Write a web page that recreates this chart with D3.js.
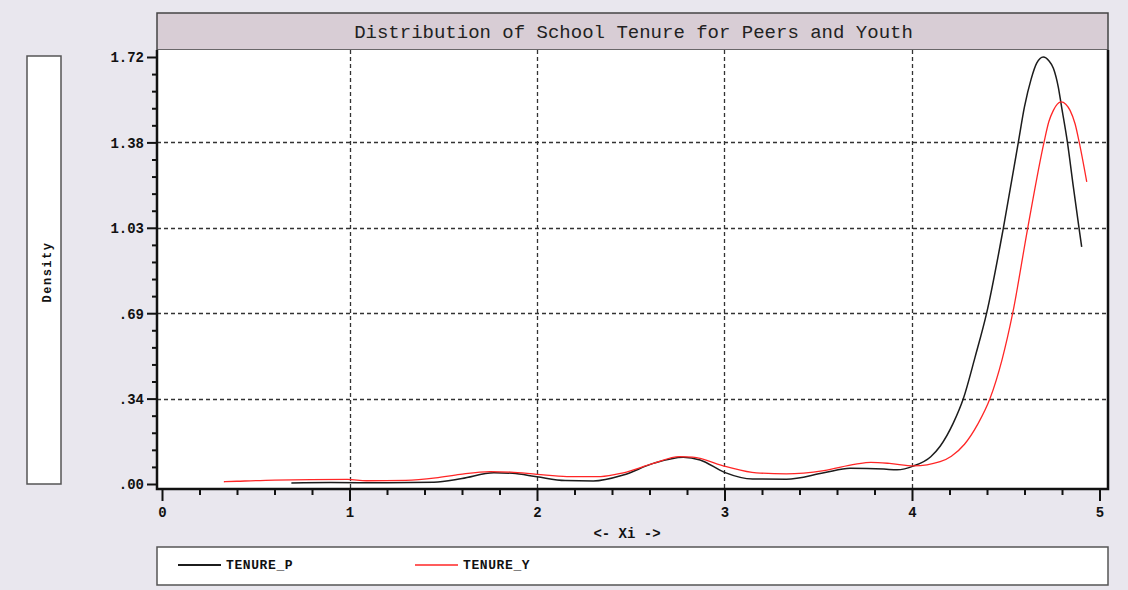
<!DOCTYPE html>
<html>
<head>
<meta charset="utf-8">
<script src="https://cdn.jsdelivr.net/npm/d3@7"></script>
<style>
  body { margin: 0; background: #e9e7ee; }
  svg { display: block; }
  text { font-family: "Liberation Mono", "DejaVu Sans Mono", monospace; }
</style>
</head>
<body>
<div id="chart"></div>
<script>
'use strict';

/* data */
var seriesNames = ['TENURE_P', 'TENURE_Y'];
var seriesColors = ['#1c1c1c', '#ff2626'];

var peersX = [0.69, 0.9, 1.2, 1.45, 1.6, 1.77, 1.87, 2.0, 2.15, 2.3, 2.46, 2.62, 2.78, 2.87, 3.0,
  3.15, 3.33, 3.53, 3.67, 3.85, 3.92, 4.01, 4.1, 4.15, 4.22, 4.274, 4.336, 4.398, 4.487,
  4.567, 4.6, 4.635, 4.665, 4.7, 4.73, 4.754, 4.78, 4.798, 4.829, 4.86, 4.891, 4.905];
var peersY = [0.004, 0.006, 0.005, 0.007, 0.022, 0.045, 0.043, 0.029, 0.014, 0.012, 0.036, 0.083, 0.108, 0.097, 0.047,
  0.02, 0.019, 0.045, 0.063, 0.06, 0.057, 0.073, 0.11, 0.152, 0.245, 0.344, 0.51, 0.688, 1.03,
  1.376, 1.52, 1.63, 1.695, 1.72, 1.705, 1.675, 1.6, 1.518, 1.376, 1.2, 1.03, 0.955];

var youthX = [0.33, 0.4, 0.6, 0.99, 1.09, 1.3, 1.46, 1.59, 1.75, 1.86, 2.0, 2.16, 2.34, 2.46, 2.62,
  2.76, 2.83, 3.01, 3.17, 3.33, 3.53, 3.7, 3.78, 3.88, 4.01, 4.15, 4.21, 4.28, 4.35, 4.416, 4.48,
  4.537, 4.617, 4.704, 4.73, 4.754, 4.775, 4.795, 4.82, 4.843, 4.87, 4.892, 4.932];
var youthY = [0.009, 0.011, 0.016, 0.019, 0.013, 0.015, 0.025, 0.039, 0.05, 0.048, 0.039, 0.03, 0.03, 0.045, 0.083,
  0.11, 0.108, 0.07, 0.045, 0.041, 0.054, 0.08, 0.087, 0.083, 0.073, 0.09, 0.112, 0.16, 0.24, 0.344, 0.5,
  0.688, 1.03, 1.376, 1.46, 1.505, 1.53, 1.539, 1.53, 1.505, 1.45, 1.376, 1.217];

var yTicks = [0, 0.344, 0.688, 1.032, 1.376, 1.72];
var yTickLabels = ['.00', '.34', '.69', '1.03', '1.38', '1.72'];
var xTicks = [0, 1, 2, 3, 4, 5];

var titleText = 'Distribution of School Tenure for Peers and Youth';

// page geometry
var width = 1128, height = 590;
var plot = {left: 157, right: 1108, top: 50, bottom: 489};

var svg = d3.select('#chart').append('svg')
  .attr('width', width)
  .attr('height', height);

svg.append('rect')
  .attr('width', width).attr('height', height)
  .style('fill', '#e9e7ee');

// scales
var x = d3.scaleLinear().domain([0, 5]).range([162, 1099.5]);
var y = d3.scaleLinear().domain([0, 1.72]).range([484, 57]);

/* title band */
svg.append('rect')
  .attr('x', plot.left).attr('y', 13)
  .attr('width', plot.right - plot.left).attr('height', plot.top - 13)
  .style('fill', '#d8cdd5')
  .style('stroke', '#444').style('stroke-width', 1.5);
svg.append('text')
  .attr('x', (plot.left + plot.right) / 2 + 1)
  .attr('y', 38)
  .attr('text-anchor', 'middle')
  .style('font-size', '19px')
  .style('fill', '#222')
  .text(titleText);

/* plot background */
svg.append('rect')
  .attr('x', plot.left).attr('y', plot.top)
  .attr('width', plot.right - plot.left).attr('height', plot.bottom - plot.top)
  .style('fill', '#fff');

/* grid lines */
svg.append('g').selectAll('line.vg')
  .data(xTicks.slice(1, 5))
  .enter().append('line')
  .attr('x1', function(d) { return Math.round(x(d)) + 0.5; })
  .attr('x2', function(d) { return Math.round(x(d)) + 0.5; })
  .attr('y1', plot.top).attr('y2', plot.bottom)
  .style('stroke', '#333').style('stroke-width', 1.3)
  .style('stroke-dasharray', '4,3');

svg.append('g').selectAll('line.hg')
  .data(yTicks.slice(1, 5))
  .enter().append('line')
  .attr('y1', function(d) { return Math.round(y(d)) + 0.5; })
  .attr('y2', function(d) { return Math.round(y(d)) + 0.5; })
  .attr('x1', plot.left).attr('x2', plot.right)
  .style('stroke', '#333').style('stroke-width', 1.3)
  .style('stroke-dasharray', '4,3');

/* curves */
var line = d3.line()
  .x(function(d) { return x(d[0]); })
  .y(function(d) { return y(d[1]); })
  .curve(d3.curveMonotoneX);

var series = [d3.zip(peersX, peersY), d3.zip(youthX, youthY)];
svg.append('g').selectAll('path')
  .data(series)
  .enter().append('path')
  .attr('d', line)
  .style('fill', 'none')
  .style('stroke', function(d, i) { return seriesColors[i]; })
  .style('stroke-width', function(d, i) { return i === 0 ? 1.5 : 1.3; });

/* frame: left, bottom, right */
svg.append('path')
  .attr('d', 'M' + plot.left + ',' + plot.top + 'V' + plot.bottom + 'H' + plot.right + 'V' + plot.top)
  .style('fill', 'none')
  .style('stroke', '#111').style('stroke-width', 2.5);

// y axis ticks
var yMinor = [];
for (var i = 0; i < yTicks.length - 1; i++) {
  for (var k = 1; k < 5; k++) yMinor.push(yTicks[i] + (yTicks[i + 1] - yTicks[i]) * k / 5);
}
var yAxis = d3.axisLeft(y).tickValues(yTicks)
  .tickFormat(function(d, i) { return yTickLabels[i]; })
  .tickSize(10).tickPadding(3);
var gy = svg.append('g')
  .attr('transform', 'translate(' + plot.left + ',0)')
  .call(yAxis);
gy.select('.domain').remove();
gy.selectAll('line').style('stroke', '#111').style('stroke-width', 2);
gy.selectAll('text')
  .style('font-size', '14px').style('font-weight', 'bold')
  .style('fill', '#111').attr('dy', '0.35em');
var gyMinor = svg.append('g')
  .attr('transform', 'translate(' + plot.left + ',0)')
  .call(d3.axisLeft(y).tickValues(yMinor).tickSize(5).tickFormat(''));
gyMinor.select('.domain').remove();
gyMinor.selectAll('line').style('stroke', '#111').style('stroke-width', 2);

// x axis ticks
var xMinor = d3.range(0, 25).filter(function(v) { return v % 5 !== 0; })
  .map(function(v) { return v / 5; });
var xAxis = d3.axisBottom(x).tickValues(xTicks).tickSize(12).tickPadding(6)
  .tickFormat(d3.format('d'));
var gx = svg.append('g')
  .attr('transform', 'translate(0,' + plot.bottom + ')')
  .call(xAxis);
gx.select('.domain').remove();
gx.selectAll('line').style('stroke', '#111').style('stroke-width', 2);
gx.selectAll('text')
  .style('font-size', '14px').style('font-weight', 'bold').style('fill', '#111');
var gxMinor = svg.append('g')
  .attr('transform', 'translate(0,' + plot.bottom + ')')
  .call(d3.axisBottom(x).tickValues(xMinor).tickSize(6).tickFormat(''));
gxMinor.select('.domain').remove();
gxMinor.selectAll('line').style('stroke', '#111').style('stroke-width', 2);

svg.append('text')
  .attr('x', 627).attr('y', 538)
  .attr('text-anchor', 'middle')
  .style('font-size', '14px').style('font-weight', 'bold').style('fill', '#111')
  .text('<- Xi ->');

/* y label box */
svg.append('rect')
  .attr('x', 27).attr('y', 56)
  .attr('width', 34).attr('height', 428)
  .style('fill', '#fff')
  .style('stroke', '#555').style('stroke-width', 1.5);
svg.append('text')
  .attr('transform', 'translate(51,272) rotate(-90)')
  .attr('text-anchor', 'middle')
  .style('font-size', '12px').style('font-weight', 'bold')
  .style('letter-spacing', '1.5px').style('fill', '#111')
  .text('Density');

/* legend */
svg.append('rect')
  .attr('x', plot.left).attr('y', 547)
  .attr('width', plot.right - plot.left).attr('height', 38)
  .style('fill', '#fff')
  .style('stroke', '#555').style('stroke-width', 1.5);

var legendX = [178, 415];
var legend = svg.selectAll('.legend')
  .data(seriesNames)
  .enter().append('g')
  .attr('class', 'legend')
  .attr('transform', function(d, i) { return 'translate(' + legendX[i] + ',565)'; });
legend.append('line')
  .attr('x1', 0).attr('x2', 43)
  .style('stroke', function(d, i) { return seriesColors[i]; })
  .style('stroke-width', function(d, i) { return i === 0 ? 2 : 1.5; });
legend.append('text')
  .attr('x', 48).attr('y', 4)
  .style('font-size', '13px').style('font-weight', 'bold')
  .style('letter-spacing', '0.6px').style('fill', '#111')
  .text(function(d) { return d; });
</script>
</body>
</html>
